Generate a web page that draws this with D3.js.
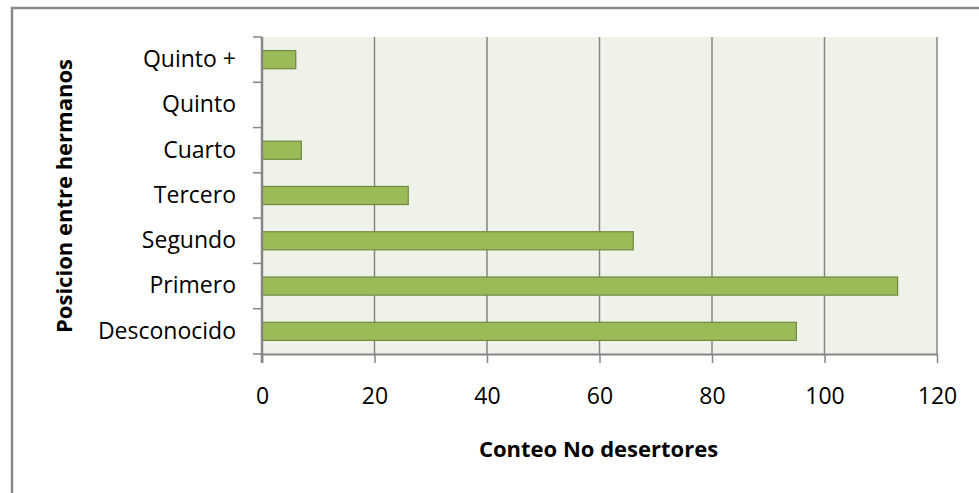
<!DOCTYPE html>
<html><head><meta charset="utf-8">
<script src="https://cdn.jsdelivr.net/npm/d3@7"></script>
<style>body{margin:0;background:#fff}svg{display:block}</style>
</head><body>
<script>
const categories = ["Desconocido","Primero","Segundo","Tercero","Cuarto","Quinto","Quinto +"];
const values = [95,113,66,26,7,0,6];
const xTicks = [0,20,40,60,80,100,120];
const xTitle = "Conteo No desertores";
const yTitle = "Posicion entre hermanos";

const W=979,H=493;
const svg=d3.select("body").append("svg").attr("width",W).attr("height",H);
const font="'Open Sans', sans-serif";
// outer border
svg.append("rect").attr("x",12).attr("y",8).attr("width",W+20).attr("height",H+20)
  .attr("fill","#fff").attr("stroke","#8a8a8a").attr("stroke-width",2.5);

const L=262,R=937,T=37,B=354;
const x=d3.scaleLinear().domain([0,120]).range([L,R]);
const y=d3.scaleBand().domain(categories.slice().reverse()).range([T,B]).paddingInner(0.6).paddingOuter(0.3);
const yb=d3.scaleBand().domain(categories.slice().reverse()).range([T,B]);

svg.append("rect").attr("x",L).attr("y",T).attr("width",R-L).attr("height",B-T).attr("fill","#eff2e9");
// gridlines
svg.append("g").selectAll("line").data(xTicks.slice(1)).join("line")
  .attr("x1",d=>x(d)).attr("x2",d=>x(d)).attr("y1",T).attr("y2",B)
  .attr("stroke","#868686").attr("stroke-width",1.5);

// bars
svg.append("g").selectAll("rect").data(categories.map((c,i)=>({c,v:values[i]})).filter(d=>d.v>0)).join("rect")
  .attr("x",x(0)).attr("y",d=>y(d.c)).attr("width",d=>x(d.v)-x(0)).attr("height",y.bandwidth())
  .attr("fill","#9bbb59").attr("stroke","#71893f").attr("stroke-width",1.2);

// x axis
const xa=svg.append("g").attr("transform",`translate(0,${B})`)
  .call(d3.axisBottom(x).tickValues(xTicks).tickSize(9).tickPadding(25).tickSizeOuter(0));
xa.select(".domain").attr("stroke","#868686").attr("stroke-width",2);
xa.selectAll(".tick line").attr("stroke","#868686").attr("stroke-width",1.5);
xa.selectAll("text").attr("font-family",font).attr("font-size",23).attr("fill","#000");

// y axis
const ya=svg.append("g").attr("transform",`translate(${L},0)`)
  .call(d3.axisLeft(yb).tickSize(0).tickPadding(26));
ya.select(".domain").attr("stroke","#868686").attr("stroke-width",2.5).attr("d",`M0,${T}V${B+9}`);
ya.selectAll("text").attr("font-family",font).attr("font-size",23).attr("fill","#000");
// boundary ticks
const bounds=yb.domain().map(d=>yb(d)).concat([B]);
svg.append("g").selectAll("line").data(bounds).join("line")
  .attr("x1",L-9).attr("x2",L).attr("y1",d=>d).attr("y2",d=>d)
  .attr("stroke","#868686").attr("stroke-width",1.5);

svg.append("text").attr("x",(L+R)/2-1).attr("y",457).attr("text-anchor","middle")
  .attr("font-family",font).attr("font-weight","bold").attr("font-size",22).text(xTitle);
svg.append("text").attr("transform",`translate(72,196) rotate(-90)`).attr("text-anchor","middle")
  .attr("font-family",font).attr("font-weight","bold").attr("font-size",22).text(yTitle);
</script>
</body></html>
